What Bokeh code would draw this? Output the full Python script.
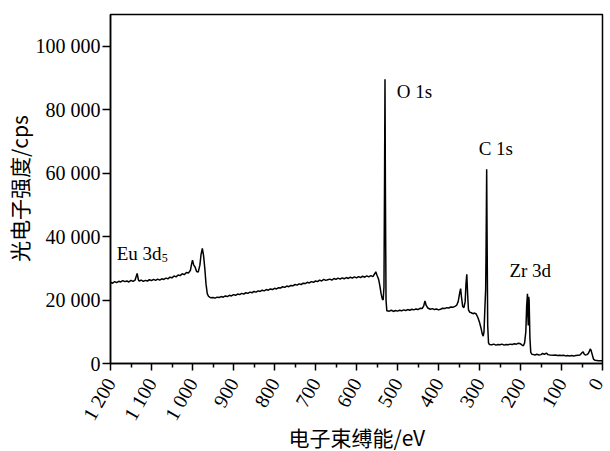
import math
from bokeh.plotting import figure
from bokeh.models import Range1d, FixedTicker, Label
from bokeh.embed import file_html
from bokeh.resources import INLINE

# Binding energy (eV) and intensity (cps)
binding_energy = [
    1200, 1195, 1190, 1185, 1180, 1175, 1170, 1165, 1160, 1155, 1150, 1145, 1140, 1135, 1132,
    1130, 1125, 1120, 1115, 1110, 1105, 1100, 1095, 1090, 1085, 1080, 1075, 1070, 1065, 1060,
    1055, 1050, 1045, 1040, 1035, 1030, 1025, 1020, 1015, 1010, 1005, 1002, 1000, 997, 994,
    990, 986, 982, 979, 976, 973, 970, 967, 964, 961, 958, 955, 950, 945, 940,
    935, 930, 925, 920, 915, 910, 905, 900, 895, 890, 885, 880, 875, 870, 865,
    860, 855, 850, 845, 840, 835, 830, 825, 820, 815, 810, 805, 800, 795, 790,
    785, 780, 775, 770, 765, 760, 755, 750, 745, 740, 735, 730, 725, 720, 715,
    710, 705, 700, 695, 690, 685, 680, 675, 670, 665, 660, 655, 650, 645, 640,
    635, 630, 625, 620, 615, 610, 605, 600, 595, 590, 585, 580, 575, 570, 565,
    560, 556, 553, 550, 546, 543, 540, 537, 535, 533, 531.5, 530.5, 529.5, 528, 526,
    520, 515, 510, 505, 500, 495, 490, 485, 480, 475, 470, 465, 460, 455, 450,
    445, 440, 436, 433, 430, 426, 420, 415, 410, 405, 400, 395, 390, 385, 380,
    375, 370, 365, 360, 356, 352, 348, 346, 344, 341, 338, 335, 333, 331, 329,
    327, 324, 320, 316, 312, 308, 304, 300, 296, 293, 291, 289, 287, 285, 284,
    282.5, 281.5, 280, 278, 276, 270, 265, 260, 255, 250, 245, 240, 235, 230, 225,
    220, 215, 210, 205, 200, 196, 193, 190, 187, 185, 183, 182, 181, 180, 179,
    177, 175, 172, 168, 165, 160, 155, 150, 146, 142, 137, 133, 128, 120, 115,
    110, 105, 100, 95, 90, 85, 80, 75, 70, 65, 60, 55, 50, 47, 45,
    42, 38, 35, 32, 30, 28, 25, 22, 18, 14, 10, 6, 2, 0,
]
intensity = [
    25600, 25300, 25800, 25500, 25900, 25700, 26100, 25800, 26000, 25700, 26200, 25900, 26300, 28400, 26400,
    26000, 26300, 25900, 26200, 26000, 26400, 26100, 26500, 26200, 26600, 26300, 26700, 26500, 26900, 26700,
    27200, 27000, 27600, 27300, 27900, 27700, 28300, 28000, 28700, 28500, 29400, 31500, 32600, 31000, 30500,
    29000, 28800, 31000, 34500, 36300, 34000, 30000, 25000, 22000, 21200, 20900, 20700, 20800, 20600, 20900,
    20800, 21100, 20900, 21300, 21100, 21500, 21300, 21700, 21500, 21900, 21700, 22100, 21900, 22300, 22100,
    22500, 22300, 22700, 22500, 22900, 22700, 23100, 22900, 23300, 23100, 23500, 23300, 23700, 23500, 23900,
    23800, 24200, 24000, 24400, 24200, 24600, 24500, 24900, 24700, 25100, 24900, 25300, 25200, 25600, 25400,
    25800, 25600, 26000, 25800, 26300, 26000, 26500, 26200, 26400, 26600, 26300, 26800, 26500, 26900, 26600,
    27000, 26700, 27100, 26800, 27200, 26900, 27300, 27000, 27400, 27100, 27500, 27200, 27600, 27300, 27700,
    27400, 28200, 28900, 27800, 26500, 24500, 22000, 20300, 20000, 24000, 60000, 89600, 55000, 20000, 16600,
    16500, 16800, 16400, 16700, 16500, 16800, 16600, 16900, 16700, 17000, 16800, 17100, 16900, 17200, 17000,
    17400, 17300, 18200, 19700, 18300, 17500, 17100, 17300, 17000, 17200, 16900, 17100, 17400, 17300, 17600,
    17500, 17800, 17700, 18000, 18300, 19500, 22500, 23600, 21000, 18000, 17600, 19500, 25000, 28100, 22000,
    17000, 16200, 16000, 15700, 15900, 15600, 14500, 13000, 11000, 9200, 8600, 10000, 17000, 23300, 35000,
    61200, 40000, 12000, 6500, 6000, 5900, 6100, 5800, 6000, 5900, 6100, 5800, 6000, 5900, 6100,
    6000, 6200, 6100, 6400, 6200, 5800, 5600, 6500, 10000, 18000, 22000, 15000, 12000, 21000, 20000,
    8000, 3500, 2900, 2800, 2700, 2900, 2700, 2800, 3200, 2900, 3300, 2800, 2700, 2600, 2700,
    2500, 2600, 2500, 2600, 2400, 2500, 2400, 2500, 2400, 2500, 2600, 2700, 3400, 3700, 3000,
    2700, 2800, 3100, 3800, 4600, 4200, 2800, 1400, 1000, 950, 900, 900, 850, 800,
]

x_ticks = [1200, 1100, 1000, 900, 800, 700, 600, 500, 400, 300, 200, 100, 0]
x_tick_labels = ["1 200", "1 100", "1 000", "900", "800", "700", "600", "500", "400", "300", "200", "100", "0"]
y_ticks = [0, 20000, 40000, 60000, 80000, 100000]
y_tick_labels = ["0", "20 000", "40 000", "60 000", "80 000", "100 000"]
x_minor_ticks = [1150, 1050, 950, 850, 750, 650, 550, 450, 350, 250, 150, 50]

peak_names = ["O 1s", "C 1s", "Zr 3d"]
peak_label_x = [502, 302, 227]
peak_label_y = [85700, 67700, 29200]

SERIF = "'Liberation Serif', 'Times New Roman', serif"
CJK = "'Noto Sans CJK SC', sans-serif"

p = figure(frame_width=492, frame_height=349, output_backend="svg", toolbar_location=None,
           x_range=Range1d(1200, 0), y_range=Range1d(0, 110000),
           min_border_left=103, min_border_right=5, min_border_top=14, min_border_bottom=80)

p.line(binding_energy, intensity, line_color="black", line_width=1.5)

p.xgrid.visible = False
p.ygrid.visible = False
p.outline_line_color = "black"
p.outline_line_width = 1.5
p.background_fill_color = "white"
p.border_fill_color = "white"

xa = p.xaxis[0]
xa.ticker = FixedTicker(ticks=x_ticks, minor_ticks=x_minor_ticks)
xa.major_label_overrides = {t: s for t, s in zip(x_ticks, x_tick_labels)}
xa.major_label_orientation = math.pi / 3
xa.major_label_text_font = SERIF
xa.major_label_text_font_size = "20px"
xa.major_label_text_color = "black"
xa.major_label_standoff = 9
xa.major_tick_out = 7
xa.major_tick_in = 0
xa.minor_tick_out = 4
xa.minor_tick_in = 0
xa.axis_line_width = 1.5
xa.major_tick_line_width = 1.5
xa.minor_tick_line_width = 1.5
xa.axis_label = "电子束缚能/eV"
xa.axis_label_text_font = CJK
xa.axis_label_text_font_size = "21px"
xa.axis_label_text_font_style = "normal"
xa.axis_label_text_color = "black"
xa.axis_label_standoff = -10

ya = p.yaxis[0]
ya.ticker = FixedTicker(ticks=y_ticks)
ya.major_label_overrides = {t: s for t, s in zip(y_ticks, y_tick_labels)}
ya.major_label_text_font = SERIF
ya.major_label_text_font_size = "20px"
ya.major_label_text_color = "black"
ya.major_label_standoff = 2
ya.major_tick_out = 8
ya.major_tick_in = 0
ya.minor_tick_line_color = None
ya.axis_line_width = 1.5
ya.major_tick_line_width = 1.5
ya.axis_label = "光电子强度/cps"
ya.axis_label_text_font = CJK
ya.axis_label_text_font_size = "21px"
ya.axis_label_text_font_style = "normal"
ya.axis_label_text_color = "black"
ya.axis_label_standoff = -1

for name, lx, ly in zip(peak_names, peak_label_x, peak_label_y):
    p.add_layout(Label(x=lx, y=ly, text=name, text_font=SERIF, text_font_size="19px",
                       text_color="black", text_baseline="alphabetic"))

p.add_layout(Label(x=1185, y=34700, text="Eu 3d", text_font=SERIF, text_font_size="19px",
                   text_color="black", text_baseline="alphabetic"))
p.add_layout(Label(x=1185, y=34700, x_offset=45, y_offset=-5, text="5", text_font=SERIF,
                   text_font_size="12px", text_color="black", text_baseline="alphabetic"))

open("out.html", "w").write(file_html(p, INLINE))
